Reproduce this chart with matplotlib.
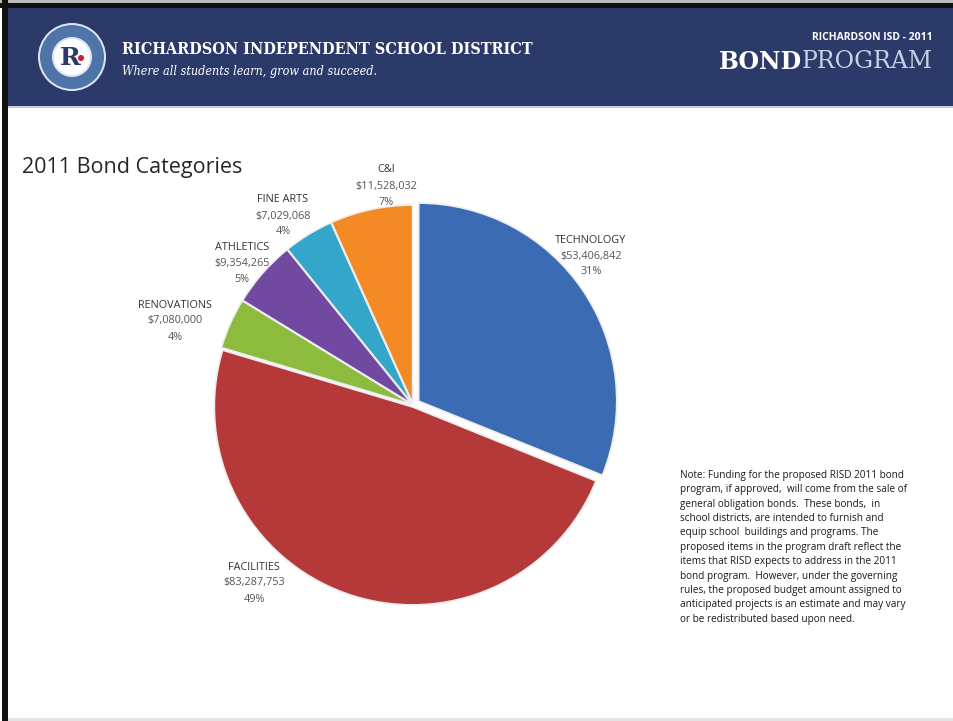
import numpy as np
import matplotlib
matplotlib.use('Agg')
import matplotlib.pyplot as plt
from matplotlib.patches import Rectangle, Circle

# data
categories = ['TECHNOLOGY', 'FACILITIES', 'RENOVATIONS', 'ATHLETICS', 'FINE ARTS', 'C&I']
amounts = [53406842, 83287753, 7080000, 9354265, 7029068, 11528032]
percents = ['31%', '49%', '4%', '5%', '4%', '7%']
colors = ['#3A6BB3', '#B6393A', '#8CBB3E', '#7149A0', '#34A6C9', '#F38A26']

note = ("Note: Funding for the proposed RISD 2011 bond\n"
        "program, if approved,  will come from the sale of\n"
        "general obligation bonds.  These bonds,  in\n"
        "school districts, are intended to furnish and\n"
        "equip school  buildings and programs. The\n"
        "proposed items in the program draft reflect the\n"
        "items that RISD expects to address in the 2011\n"
        "bond program.  However, under the governing\n"
        "rules, the proposed budget amount assigned to\n"
        "anticipated projects is an estimate and may vary\n"
        "or be redistributed based upon need.")

W, H = 954, 721
navy = '#2B3A68'

fig = plt.figure(figsize=(W / 100, H / 100), dpi=100)
fig.patch.set_facecolor('white')

# page / header drawn in pixel coordinates
bg = fig.add_axes([0, 0, 1, 1])
bg.set_xlim(0, W)
bg.set_ylim(H, 0)
bg.axis('off')
bg.add_patch(Rectangle((0, 0), W, 3, color='#BDBDBD', lw=0))
bg.add_patch(Rectangle((0, 3), W, 5, color='#111111', lw=0))
bg.add_patch(Rectangle((2, 0), 6, H, color='#111111', lw=0))
bg.add_patch(Rectangle((8, 8), W - 8, 98, color=navy, lw=0))
bg.add_patch(Rectangle((8, 106), W - 8, 2, color='#C9CED8', lw=0))
bg.add_patch(Rectangle((8, H - 3), W - 8, 3, color='#E4E4E4', lw=0))

# logo
bg.add_patch(Circle((72, 57), 34, color='#DCE6F2', lw=0))
bg.add_patch(Circle((72, 57), 32, color='#4E74A8', lw=0))
bg.add_patch(Circle((72, 57), 20, color='#DCE6F2', lw=0))
bg.add_patch(Circle((72, 57), 18, color='white', lw=0))
bg.text(70, 58, 'R', fontsize=18, fontweight='bold', family='DejaVu Serif',
        color=navy, ha='center', va='center')
bg.add_patch(Circle((81, 58), 3.0, color='#C8202F', lw=0))

bg.text(122, 49, 'RICHARDSON INDEPENDENT SCHOOL DISTRICT', fontsize=11.6,
        fontweight='bold', family='DejaVu Serif', fontstretch='condensed',
        color='white', ha='left', va='center')
bg.text(122, 71, 'Where all students learn, grow and succeed.', fontsize=9,
        style='italic', family='DejaVu Serif', fontstretch='condensed',
        color='white', ha='left', va='center')
bg.text(933, 38, 'RICHARDSON ISD - 2011', fontsize=7.5, fontweight='bold',
        family='Open Sans', color='white', ha='right', va='center')
prog = bg.text(933, 62, 'PROGRAM', fontsize=17, family='DejaVu Serif',
               color='#C5D2E6', ha='right', va='center')
fig.canvas.draw()
left_px = prog.get_window_extent().x0
bg.text(left_px, 62, 'BOND', fontsize=17, fontweight='bold', family='DejaVu Serif',
        color='white', ha='right', va='center')

bg.text(22, 167, '2011 Bond Categories', fontsize=15.5, family='Open Sans',
        color='#262626', ha='left', va='center')

bg.text(680, 470, note, fontsize=7.2, family='Open Sans', color='#1A1A1A',
        ha='left', va='top', linespacing=1.42)

# pie axes: one data unit = pie radius (198 px), centred at (413, 405)
R = 198
cx, cy = 413, 405
span = 1.35
ax = fig.add_axes([(cx - span * R) / W, (H - cy - span * R) / H,
                   2 * span * R / W, 2 * span * R / H])

explode = [0.035, 0.01, 0.01, 0.01, 0.01, 0.01]
wedges, _ = ax.pie(amounts, colors=colors, startangle=90, counterclock=False,
                   explode=explode, radius=1.0,
                   wedgeprops=dict(edgecolor='#EDEDED', linewidth=1.2))
ax.set_xlim(-span, span)
ax.set_ylim(-span, span)
ax.axis('off')

# label spots (pixel offsets from pie centre, converted to radius units)
label_px = [(178, -149), (-159, 178), (-238, -84), (-171, -142), (-130, -189), (-27, -219)]
for name, amt, pct, (dx, dy) in zip(categories, amounts, percents, label_px):
    x, y = dx / R, -dy / R
    ax.text(x, y + 16 / R, name, fontsize=7.8, family='Open Sans', color='#333333',
            ha='center', va='center')
    ax.text(x, y, '${:,}'.format(amt), fontsize=7.8, family='Open Sans',
            color='#555555', ha='center', va='center')
    ax.text(x, y - 16 / R, pct, fontsize=7.8, family='Open Sans', color='#555555',
            ha='center', va='center')

plt.savefig('out.png', dpi=100)
